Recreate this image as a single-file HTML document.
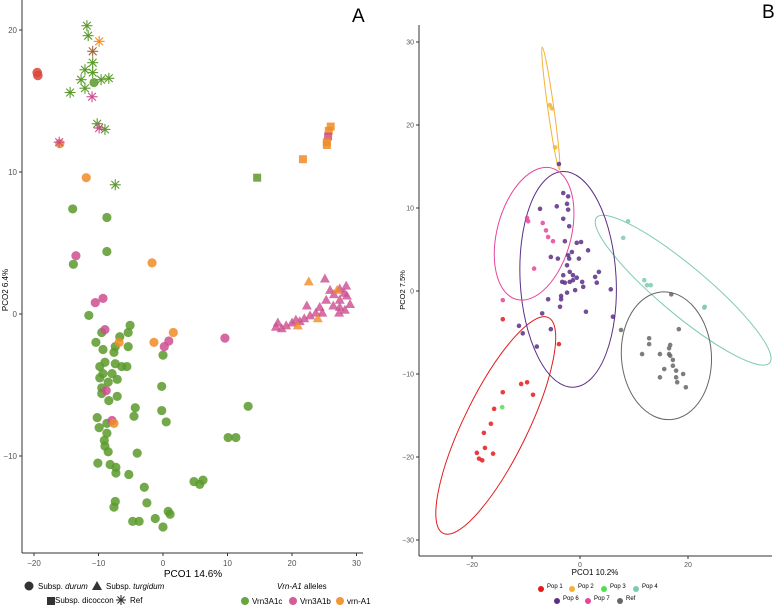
<!DOCTYPE html>
<html><head><meta charset="utf-8"><style>
body{margin:0;background:#fff;}
svg{display:block;font-family:"Liberation Sans",sans-serif;}
</style></head><body>
<svg id="fig" width="778" height="606" viewBox="0 0 778 606">
<g id="pA"></g>
<g id="pB"></g>
</svg>
<script>
// ---------- Panel A data ----------
const aXTicks = [-20,-10,0,10,20,30];
const aYTicks = [20,10,0,-10];
const aGreenCircX = [-11.5,-9.5,-5.1,-5.4,-6.7,-10.4,-9.3,-7.4,-5.4,-7.6,-9.0,-7.4,-5.6,-6.4,-9.8,-9.3,-7.9,-9.8,-7.1,-8.5,-9.5,-9.5,-8.4,-7.1,0,-0.2,-4.3,-4.5,-0.2,0.5,13.2,10.1,11.3,-10.2,-9.9,-8.7,-8.7,-9.1,-9.0,-8.5,-4.0,-10.1,-8.2,-7.3,-7.3,-5.3,4.8,6.2,5.7,-2.9,-7.4,-7.6,-2.5,0.8,1.1,-1.2,-4.7,-3.7,0,-10.7,-14,-8.7,-8.7,-13.9];
const aGreenCircY = [-0.1,-1.3,-0.8,-1.3,-1.6,-2.0,-2.5,-2.3,-2.3,-2.7,-3.4,-3.5,-3.7,-3.7,-3.7,-4.2,-4.2,-4.5,-4.6,-4.8,-5.2,-5.6,-6.1,-5.8,-2.9,-5.1,-6.6,-7.2,-6.8,-7.6,-6.5,-8.7,-8.7,-7.3,-8.0,-7.7,-8.4,-8.9,-9.3,-9.7,-9.8,-10.5,-10.6,-10.8,-11.2,-11.3,-11.8,-11.7,-12.0,-12.2,-13.2,-13.6,-13.3,-13.9,-14.1,-14.4,-14.6,-14.6,-15.0,16.3,7.4,6.8,4.4,3.5];
const aPinkCircX = [-10.5,-9.3,-9.0,0.2,0.9,9.6,-7.9,-8.8,-13.5];
const aPinkCircY = [0.8,1.1,-1.1,-2.3,-1.9,-1.7,-7.5,-5.4,4.1];
const aOrangeCircX = [1.6,-1.4,-6.8,-7.6,-11.9,-16,-1.7];
const aOrangeCircY = [-1.3,-2.0,-2.0,-7.7,9.6,12.0,3.6];
const aRedCircX = [-19.5,-19.4];
const aRedCircY = [17.0,16.8];
const aStarX = [-11.8,-11.6,-9.9,-10.9,-10.9,-12.1,-10.9,-12.7,-9.6,-8.4,-12.1,-14.4,-11.0,-10.2,-9.9,-9.0,-16.1,-7.4];
const aStarY = [20.3,19.6,19.2,18.5,17.7,17.2,17.0,16.5,16.5,16.6,15.9,15.6,15.3,13.4,13.1,13.0,12.1,9.1];
const aStarCol = ['g','g','o','b','g','g','g','g','g','g','g','g','p','g','p','g','p','g'];
const aSquareX = [26.0,25.7,25.6,25.4,25.4,21.7,14.6];
const aSquareY = [13.2,12.9,12.5,12.1,11.9,10.9,9.6];
const aSquareCol = ['o','o','p','o','o','o','g'];
const aTriX = [25.9,26.5,27.4,28.1,28.5,27.4,26.4,25.3,24.3,23.7,22.8,21.9,21.2,20.6,20.0,19.1,18.4,17.8,17.5,22.3,27.4,28.2,29.0,27.3,24.7,25.1,28.4,22.6,27.0,24.0,20.9];
const aTriY = [1.7,1.4,1.8,1.5,1.3,1.0,0.6,1.0,0.5,0.1,-0.1,-0.3,-0.5,-0.4,-0.6,-0.8,-1.0,-0.6,-0.9,0.6,0.5,0.3,0.7,0.1,0.1,2.5,2.0,2.3,1.7,-0.3,-0.8];
const aTriCol = ['p','p','p','p','p','p','p','p','p','p','p','p','p','p','p','p','p','p','p','p','p','p','p','p','p','p','p','o','o','o','o'];

// ---------- Panel B data ----------
const bXTicks = [-20,0,20];
const bYTicks = [30,20,10,0,-10,-20,-30];
const pop1X = [-14.3,-3.9,-10.9,-9.8,-14.3,-8.7,-15.9,-16.5,-17.8,-17.6,-19.1,-16.1,-18.7,-18.1];
const pop1Y = [-3.4,-6.4,-11.2,-11.0,-12.2,-12.5,-14.2,-16.0,-17.1,-18.9,-19.5,-19.6,-20.2,-20.4];
const pop2X = [-5.6,-5.2,-4.6];
const pop2Y = [22.4,22.0,17.3];
const pop3X = [-14.4];
const pop3Y = [-14.0];
const pop4X = [8.9,8.0,11.9,12.4,13.1,23.0,23.1];
const pop4Y = [8.4,6.4,1.3,0.7,0.7,-2.0,-1.9];
const pop6X = [-3.9,-3.1,-2.2,-2.4,-4.3,-2.2,-7.4,-3.1,-2.0,-2.8,-0.6,0.2,-1.5,1.5,-5.4,-4.1,-2.2,-2.0,-0.2,-2.4,-1.9,-3.1,-1.3,-0.6,-3.3,-2.8,-1.9,-1.3,0.4,2.8,3.5,3.1,0.6,-0.9,-2.4,-3.5,-3.5,-5.9,5.7,-3.7,-7.0,1.1,6.1,-11.3,-10.6,-5.4,-8.0];
const pop6Y = [15.3,11.8,11.4,10.5,10.2,9.8,9.9,8.7,7.8,6.0,5.8,5.9,4.7,4.9,4.1,3.9,4.3,3.9,3.9,3.1,2.3,1.9,1.9,1.6,1.1,1.0,1.1,1.3,1.1,1.7,2.3,1.0,0.5,0.1,-0.2,-0.6,-1.0,-1.0,0.2,-1.9,-2.7,-2.5,-3.1,-4.2,-5.1,-4.6,-6.7];
const pop7X = [-9.8,-9.6,-6.9,-6.3,-5.9,-5.0,-8.5,-14.3];
const pop7Y = [8.8,8.4,8.2,7.3,6.5,6.0,2.7,-1.1];
const refX = [7.6,16.9,18.3,12.8,12.8,16.7,16.5,11.5,14.8,16.5,16.7,17.2,17.2,15.6,17.8,19.1,14.8,17.8,18.0,19.6];
const refY = [-4.7,-0.4,-4.6,-5.7,-6.4,-6.5,-6.9,-7.6,-7.6,-7.6,-7.8,-8.3,-9.0,-9.4,-9.6,-10.0,-10.4,-10.4,-11.0,-11.6];
const ellGroups = ['pop1','pop2','pop4','pop6','pop7','ref'];
const ellCX = [-15.6,-5.4,19.1,-2.2,-8.5,16.0];
const ellCY = [-16.2,22.0,0.1,1.4,6.9,-7.8];

const NS='http://www.w3.org/2000/svg';
function mk(parent,tag,attrs,text){const e=document.createElementNS(NS,tag);for(const k in attrs)e.setAttribute(k,attrs[k]);if(text!==undefined)e.textContent=text;parent.appendChild(e);return e;}
function lbl(v){return v<0?'\u2212'+Math.abs(v):String(v);}

// ---- Panel A scales ----
const ax = v => 163 + v*6.45;
const ay = v => 314 - v*14.2;
const A = document.getElementById('pA');
const cG='#5a9a2a', cP='#cc4d8f', cO='#f08c24', cB='#a0663a';
const colA = {g:cG,p:cP,o:cO,b:cB};
let e;
e=mk(A,'line',{x1:22,y1:0,x2:22,y2:553,stroke:'#333','stroke-width':1});


e=mk(A,'line',{x1:22,y1:553,x2:363,y2:553,stroke:'#333','stroke-width':1});


aXTicks.forEach(t=>{
  mk(A,'line',{x1:ax(t),y1:553,x2:ax(t),y2:556,stroke:'#333'});
  e=mk(A,'text',{x:ax(t),y:566,'font-size':8,fill:'#555','text-anchor':'middle'},lbl(t));
  
  
});
aYTicks.forEach(t=>{
  mk(A,'line',{x1:19,y1:ay(t),x2:22,y2:ay(t),stroke:'#333'});
  e=mk(A,'text',{x:17,y:ay(t)+3,'font-size':8,fill:'#555','text-anchor':'end'},lbl(t));
  
  
});
function circ(par,x,y,r,c,op,name){const el=mk(par,'circle',{cx:x,cy:y,r:r,fill:c,'fill-opacity':op});return el;}
function star(par,x,y,r,c,name){const g=mk(par,'g',{stroke:c,'stroke-width':1.1});for(let i=0;i<4;i++){const a=i*Math.PI/4;mk(g,'line',{x1:x-r*Math.cos(a),y1:y-r*Math.sin(a),x2:x+r*Math.cos(a),y2:y+r*Math.sin(a)});}return g;}
aGreenCircX.forEach((x,i)=>circ(A,ax(x),ay(aGreenCircY[i]),4.6,cG,0.85,'point-vrn3a1c'));
aPinkCircX.forEach((x,i)=>circ(A,ax(x),ay(aPinkCircY[i]),4.6,cP,0.85,'point-vrn3a1b'));
aOrangeCircX.forEach((x,i)=>circ(A,ax(x),ay(aOrangeCircY[i]),4.6,cO,0.85,'point-vrn-a1'));
aRedCircX.forEach((x,i)=>circ(A,ax(x),ay(aRedCircY[i]),4.8,'#d9473a',0.85,'point-overlap'));
aSquareX.forEach((x,i)=>{e=mk(A,'rect',{x:ax(x)-4,y:ay(aSquareY[i])-4,width:8,height:8,fill:colA[aSquareCol[i]],'fill-opacity':0.85});
  
  });
aTriX.forEach((x,i)=>{const px=ax(x),py=ay(aTriY[i]);e=mk(A,'polygon',{points:`${px},${py-5} ${px-5},${py+4} ${px+5},${py+4}`,fill:colA[aTriCol[i]],'fill-opacity':0.8});
  
  });
aStarX.forEach((x,i)=>star(A,ax(x),ay(aStarY[i]),5.5,colA[aStarCol[i]],'star-point'));
e=mk(A,'text',{x:352,y:22,'font-size':19,fill:'#000'},'A');


e=mk(A,'text',{x:193,y:577,'font-size':10,fill:'#000','text-anchor':'middle'},'PCO1 14.6%');


e=mk(A,'text',{x:0,y:0,'font-size':8,fill:'#000','text-anchor':'middle',transform:'translate(8,290) rotate(-90)'},'PCO2 6.4%');


// legend A
const LA = mk(A,'g',{});


mk(LA,'circle',{cx:29,cy:586,r:4.5,fill:'#333'});
mk(LA,'text',{x:38,y:589,'font-size':8},'Subsp. ').appendChild(Object.assign(document.createElementNS(NS,'tspan'),{textContent:'durum'})).setAttribute('font-style','italic');
mk(LA,'polygon',{points:'97,581 92,590 102,590',fill:'#333'});
mk(LA,'text',{x:106,y:589,'font-size':8},'Subsp. ').appendChild(Object.assign(document.createElementNS(NS,'tspan'),{textContent:'turgidum'})).setAttribute('font-style','italic');
mk(LA,'rect',{x:47,y:597,width:8,height:8,fill:'#333'});
mk(LA,'text',{x:55,y:603,'font-size':8},' Subsp. dicoccon');
star(LA,121,600,5,'#333','legend-ref-star');
mk(LA,'text',{x:130,y:603,'font-size':8},'Ref');
const LA2 = mk(A,'g',{});


const t1=mk(LA2,'text',{x:277,y:589,'font-size':8},'');
const ts=document.createElementNS(NS,'tspan');ts.setAttribute('font-style','italic');ts.textContent='Vrn-A1';t1.appendChild(ts);t1.appendChild(document.createTextNode(' alleles'));
[['Vrn3A1c',cG,245],['Vrn3A1b',cP,293],['vrn-A1',cO,340]].forEach(([n,c,x])=>{
  mk(LA2,'circle',{cx:x,cy:601,r:4,fill:c,'fill-opacity':0.9});
  mk(LA2,'text',{x:x+7,y:604,'font-size':8},n);
});

// ---- Panel B scales ----
const bx = v => 580 + v*5.4;
const by = v => 291 - v*8.3;
const B = document.getElementById('pB');
e=mk(B,'line',{x1:419,y1:25,x2:419,y2:556,stroke:'#333'});


e=mk(B,'line',{x1:419,y1:556,x2:772,y2:556,stroke:'#333'});


bXTicks.forEach(t=>{
  mk(B,'line',{x1:bx(t),y1:556,x2:bx(t),y2:559,stroke:'#333'});
  e=mk(B,'text',{x:bx(t),y:567,'font-size':7,fill:'#555','text-anchor':'middle'},lbl(t));
  
  
});
bYTicks.forEach(t=>{
  mk(B,'line',{x1:416,y1:by(t),x2:419,y2:by(t),stroke:'#333'});
  e=mk(B,'text',{x:414,y:by(t)+2.5,'font-size':7,fill:'#555','text-anchor':'end'},lbl(t));
  
  
});
const popCol={pop1:'#e41a1c',pop2:'#f3b236',pop3:'#4fe04f',pop4:'#7ecbb2',pop6:'#5b2f86',pop7:'#e8449c',ref:'#666666'};
const ellRX=[120,62,113,48,37,45], ellRY=[32,3,24,108,68,64], ellRot=[-64,82,40,-3,15,-4];
ellGroups.forEach((g,i)=>{
  e=mk(B,'ellipse',{cx:bx(ellCX[i]),cy:by(ellCY[i]),rx:ellRX[i],ry:ellRY[i],fill:'none',stroke:popCol[g],'stroke-width':1,transform:`rotate(${ellRot[i]} ${bx(ellCX[i])} ${by(ellCY[i])})`});
  
  
});
[['pop1',pop1X,pop1Y],['pop2',pop2X,pop2Y],['pop3',pop3X,pop3Y],['pop4',pop4X,pop4Y],['pop6',pop6X,pop6Y],['pop7',pop7X,pop7Y],['ref',refX,refY]].forEach(([g,X,Y])=>{
  X.forEach((x,i)=>circ(B,bx(x),by(Y[i]),2.3,popCol[g],0.85,'point-'+g));
});
e=mk(B,'text',{x:762,y:18,'font-size':19,fill:'#000'},'B');


e=mk(B,'text',{x:595,y:575,'font-size':8,fill:'#000','text-anchor':'middle'},'PCO1 10.2%');


e=mk(B,'text',{x:0,y:0,'font-size':7.5,fill:'#000','text-anchor':'middle',transform:'translate(405,290) rotate(-90)'},'PCO2 7.5%');


const LB=mk(B,'g',{});


[['Pop 1','pop1',541,589],['Pop 2','pop2',572,589],['Pop 3','pop3',604,589],['Pop 4','pop4',636,589],['Pop 6','pop6',557,601],['Pop 7','pop7',588,601],['Ref','ref',620,601]].forEach(([n,g,x,y])=>{
  mk(LB,'circle',{cx:x,cy:y,r:3,fill:popCol[g]});
  mk(LB,'text',{x:x+6,y:y-1,'font-size':6},n);
});
</script>
</body></html>
